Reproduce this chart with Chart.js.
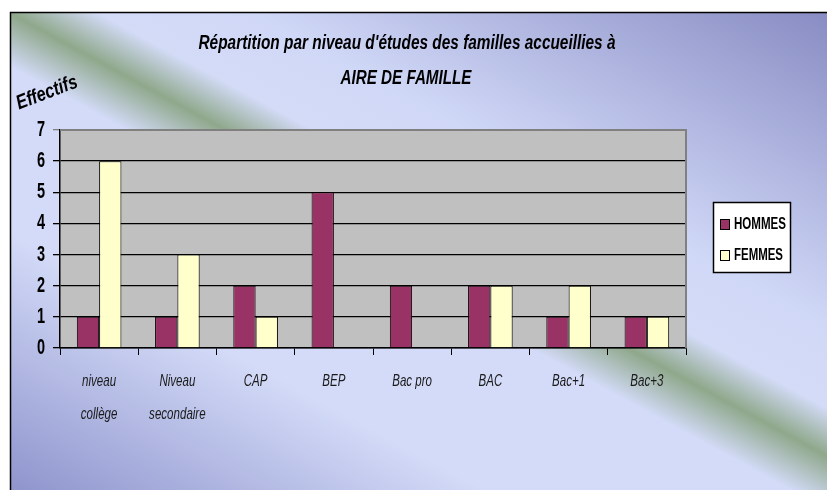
<!DOCTYPE html>
<html><head><meta charset="utf-8">
<script src="https://cdn.jsdelivr.net/npm/chart.js@4/dist/chart.umd.min.js"></script>
<style>html,body{margin:0;padding:0;background:#fff}#wrap{width:827px;height:490px;position:relative}</style>
</head><body><div id="wrap"><canvas id="c" width="827" height="490"></canvas></div>
<script>
const categories = [['niveau','collège'],['Niveau','secondaire'],'CAP','BEP','Bac pro','BAC','Bac+1','Bac+3'];
const hommes = [1,1,2,5,2,2,1,1];
const femmes = [6,3,1,0,0,2,2,1];
const seriesNames = ['HOMMES','FEMMES'];
const seriesColors = ['#993366','#ffffcc'];
const titleLines = ["Répartition par niveau d'études des familles accueillies à", 'AIRE DE FAMILLE'];
const yAxisTitle = 'Effectifs';
const yTicks = [0,1,2,3,4,5,6,7];

const FONT = "'Liberation Sans',Arial,sans-serif";

// draw text horizontally condensed (Arial Narrow look)
function narrowText(ctx, text, x, y, k){
  ctx.save(); ctx.translate(x, y); ctx.scale(k, 1); ctx.fillText(text, 0, 0); ctx.restore();
}
function fitText(ctx, text, x, y, w){
  const m = ctx.measureText(text).width;
  narrowText(ctx, text, x, y, w / m);
}

// condense the library's own tick labels
function condenseScale(scale, k){
  if (scale._condensed) return;
  scale._condensed = true;
  const orig = scale.drawLabels.bind(scale);
  scale.drawLabels = function(area){
    const ctx = this.ctx;
    const of = ctx.fillText;
    ctx.fillText = function(t, x, y){
      this.save(); this.translate(x, y); this.scale(k, 1); of.call(this, t, 0, 0); this.restore();
    };
    try { orig(area); } finally { ctx.fillText = of; }
  };
}

const decor = {
  id:'decor',
  afterLayout(chart){
    condenseScale(chart.scales.x, 0.68);
    condenseScale(chart.scales.y, 0.66);
  },
  beforeDraw(chart){
    const ctx = chart.ctx, W = chart.width, H = chart.height;
    ctx.save();
    ctx.fillStyle = '#fff'; ctx.fillRect(0,0,W,H);
    const g = ctx.createLinearGradient(611,-105,225,607);
    g.addColorStop(0,'#888cc3');
    g.addColorStop(0.34,'#d0d8f7');
    g.addColorStop(0.43,'#d3dbf7');
    g.addColorStop(0.482,'#8fa88b');
    g.addColorStop(0.54,'#d3dbf8');
    g.addColorStop(0.72,'#d3dbf8');
    g.addColorStop(1,'#8f94cc');
    ctx.fillStyle = g; ctx.fillRect(10,12,W,H);
    ctx.strokeStyle = '#000'; ctx.lineWidth = 1.5;
    ctx.strokeRect(10.5,12.5,W+20,H+20);
    const a = chart.chartArea;
    ctx.fillStyle = '#c0c0c0';
    ctx.fillRect(a.left,a.top,a.right-a.left,a.bottom-a.top);
    ctx.restore();
  },
  afterDraw(chart){
    const ctx = chart.ctx, a = chart.chartArea;
    ctx.save();
    // plot top/right border
    ctx.strokeStyle = '#808080'; ctx.lineWidth = 2;
    ctx.beginPath(); ctx.moveTo(a.left, a.top); ctx.lineTo(a.right, a.top); ctx.lineTo(a.right, a.bottom); ctx.stroke();
    // title
    ctx.fillStyle = '#000'; ctx.textAlign = 'center'; ctx.textBaseline = 'middle';
    ctx.font = 'italic bold 20px ' + FONT;
    fitText(ctx, titleLines[0], 407, 43, 417);
    fitText(ctx, titleLines[1], 406, 78, 131);
    // Effectifs
    ctx.save();
    ctx.translate(47, 93); ctx.rotate(-21*Math.PI/180);
    ctx.font = 'bold italic 20px ' + FONT;
    fitText(ctx, yAxisTitle, 0, 0, 64);
    ctx.restore();
    // legend
    const lx = 713, ly = 202, lw = 77, lh = 70;
    ctx.fillStyle = '#fff'; ctx.fillRect(lx, ly, lw, lh);
    ctx.strokeStyle = '#000'; ctx.lineWidth = 1.5; ctx.strokeRect(lx+0.5, ly+0.5, lw, lh);
    ctx.font = 'bold 16px ' + FONT; ctx.textAlign = 'left';
    ctx.lineWidth = 1;
    chart.data.datasets.forEach((ds, i) => {
      const y = ly + 22 + i*31;
      ctx.fillStyle = ds.backgroundColor; ctx.fillRect(lx+7, y-5, 10, 11);
      ctx.strokeStyle = '#000'; ctx.strokeRect(lx+7.5, y-4.5, 9, 10);
      ctx.fillStyle = '#000'; fitText(ctx, ds.label, lx+21, y+1, i===0?52:49);
    });
    ctx.restore();
  }
};

new Chart(document.getElementById('c'), {
  type:'bar',
  data:{
    labels: categories,
    datasets:[
      {label: seriesNames[0], data: hommes, backgroundColor: seriesColors[0], borderColor:'#000', borderWidth:1, barPercentage:1, categoryPercentage:0.57},
      {label: seriesNames[1], data: femmes, backgroundColor: seriesColors[1], borderColor:'#000', borderWidth:1, barPercentage:1, categoryPercentage:0.57}
    ]
  },
  options:{
    responsive:false, animation:false, devicePixelRatio:1,
    layout:{padding:{left:10, top:130, right:141, bottom:0}},
    plugins:{legend:{display:false}, title:{display:false}, tooltip:{enabled:false}},
    scales:{
      x:{
        grid:{offset:true, drawOnChartArea:false, drawTicks:true, tickLength:7, color:'#000', lineWidth:1},
        border:{color:'#000', width:1.5},
        ticks:{color:'#1a1a1a', font:{family:FONT, size:17, style:'italic', lineHeight:1.95}, padding:10, maxRotation:0, autoSkip:false},
        afterFit(s){ s.height = 142; }
      },
      y:{
        min:0, max:7,
        afterBuildTicks(s){ s.ticks = yTicks.map(v => ({value:v})); },
        grid:{color: c => (c.tick && c.tick.value === 7) ? '#808080' : '#000', lineWidth:1.3, tickLength:7, drawTicks:true},
        border:{color:'#000', width:1.5},
        ticks:{color:'#000', font:{family:FONT, size:22, weight:'bold'}, padding:8},
        afterFit(s){ s.width = 50; }
      }
    }
  },
  plugins:[decor]
});
</script>
</body></html>
